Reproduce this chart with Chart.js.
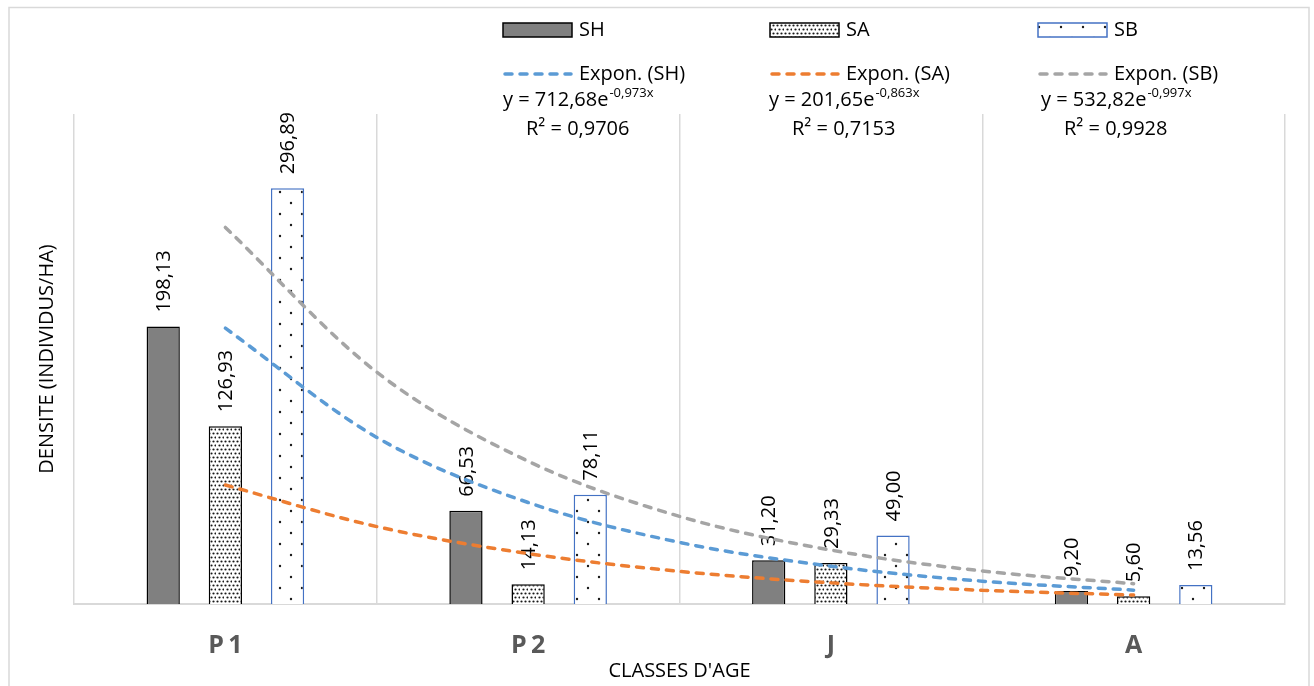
<!DOCTYPE html>
<html>
<head>
<meta charset="utf-8">
<script src="https://cdn.jsdelivr.net/npm/chart.js@4.4.1/dist/chart.umd.min.js"></script>
<style>
  body { margin: 0; background: #fff; }
  #wrap { position: relative; width: 1314px; height: 686px; }
  #wrap canvas { position: absolute; left: 0; top: 0; display: block; }
</style>
</head>
<body>
<div id="wrap">
  <canvas id="densChart" width="1314" height="686"></canvas>
  <canvas id="trendChart" width="1314" height="686"></canvas>
</div>
<script>
// data
const categories = ['P1', 'P2', 'J', 'A'];
const shValues = [198.13, 66.53, 31.20, 9.20];
const saValues = [126.93, 14.13, 29.33, 5.60];
const sbValues = [296.89, 78.11, 49.00, 13.56];

// dashed trend curves, read every half category (x = 1 is P1 ... x = 4 is A)
const trendX = ['0.5', '1', '1.5', '2', '2.5', '3', '3.5', '4', '4.5'];
const trendBlue = [null, 197, 119, 72.5, 44, 27, 16.3, 9.9, null];
const trendOrange = [null, 85, 55.3, 36, 23.3, 15.1, 9.8, 6.4, null];
const trendGray = [null, 269, 165.6, 102, 62.6, 38.5, 23.6, 14.5, null];

const seriesNames = ['SH', 'SA', 'SB'];
const trendNames = ['Expon. (SH)', 'Expon. (SA)', 'Expon. (SB)'];
const eqMain = ['y = 712,68e', 'y = 201,65e', 'y = 532,82e'];
const eqSup = ['-0,973x', '-0,863x', '-0,997x'];
const eqR2 = ['R² = 0,9706', 'R² = 0,7153', 'R² = 0,9928'];

const FONT = "'Open Sans', sans-serif";
const blue = '#5B9BD5', orange = '#ED7D31', gray = '#A5A5A5';
const CLEAR = 'rgba(0,0,0,0)';

function dotPattern(size, dots, r) {
    const c = document.createElement('canvas');
    c.width = size; c.height = size;
    const g = c.getContext('2d');
    g.fillStyle = '#fff';
    g.fillRect(0, 0, size, size);
    g.fillStyle = '#1a1a1a';
    dots.forEach(function (d) {
        g.beginPath();
        g.arc(d[0], d[1], r, 0, Math.PI * 2);
        g.fill();
    });
    return g.createPattern(c, 'repeat');
}
const saFill = dotPattern(8, [[1.5, 1.5], [5.5, 1.5], [3.5, 5.5], [7.5, 5.5]], 1.1);
const sbFill = dotPattern(22, [[5, 5], [16, 16]], 1.2);

const barStyles = [
    {fill: '#808080', stroke: '#000'},
    {fill: saFill, stroke: '#000'},
    {fill: sbFill, stroke: '#4472C4'}
];
const trendColors = [blue, orange, gray];

function fmt(v) { return v.toFixed(2).replace('.', ','); }

function barSet(label, values, st) {
    return {
        label: label, data: values,
        backgroundColor: st.fill, borderColor: st.stroke, borderWidth: 1.5,
        barPercentage: 0.535, categoryPercentage: 0.616
    };
}
function trendSet(label, ys, color) {
    return {
        label: label, data: ys, xAxisID: 'x2',
        borderColor: color, borderWidth: 3.5, borderDash: [7, 8], borderCapStyle: 'round',
        pointRadius: 0, fill: false, cubicInterpolationMode: 'monotone'
    };
}

// shared axes; the overlay gets the same sizes but invisible text
function axes(visible) {
    const txt = visible ? '#000' : CLEAR;
    return {
        x: {
            type: 'category',
            labels: categories,
            offset: true,
            grid: {display: visible, offset: true, color: '#d9d9d9', lineWidth: 1.5, drawTicks: false},
            border: {display: visible, color: '#d9d9d9', width: 2},
            ticks: {
                color: visible ? '#595959' : CLEAR,
                padding: 29,
                font: {family: FONT, size: 25, weight: 'bold', lineHeight: 1},
                callback: function (v, i) {
                    const s = categories[i];
                    return s.length > 1 ? s[0] + '\u2009' + s.slice(1) : s;
                }
            },
            title: {
                display: true, text: "CLASSES D'AGE", color: txt,
                font: {family: FONT, size: 20}, padding: {top: -28, bottom: 3}
            }
        },
        y: {
            min: 0, max: 350,
            grid: {display: false},
            border: {display: false},
            ticks: {display: false},
            title: {
                display: true, text: 'DENSITE (INDIVIDUS/HA)', color: txt,
                font: {family: FONT, size: 20}, padding: {top: 5, bottom: 7}
            }
        }
    };
}
const layout = {padding: {left: 30, right: 29, top: 114, bottom: 0}};

// frame, custom legend, trend equations and bar value labels
const decorPlugin = {
    id: 'decor',
    beforeDraw(chart) {
        const ctx = chart.ctx;
        ctx.save();
        ctx.fillStyle = '#fff';
        ctx.fillRect(0, 0, chart.width, chart.height);
        ctx.strokeStyle = '#d9d9d9';
        ctx.lineWidth = 1.5;
        ctx.strokeRect(9, 7.5, 1300, 700);
        ctx.restore();
    },
    afterDraw(chart) {
        const ctx = chart.ctx;
        const cols = [503, 770, 1038];
        const eqStart = [503, 769, 1041];
        ctx.save();
        ctx.textBaseline = 'middle';
        cols.forEach(function (x, i) {
            // bar swatch
            ctx.fillStyle = barStyles[i].fill;
            ctx.fillRect(x, 23, 69, 14);
            ctx.strokeStyle = barStyles[i].stroke;
            ctx.lineWidth = 1.5;
            ctx.strokeRect(x, 23, 69, 14);
            ctx.fillStyle = '#000';
            ctx.font = '20px ' + FONT;
            ctx.textAlign = 'left';
            ctx.fillText(seriesNames[i], x + 76, 30);

            // trend swatch
            ctx.beginPath();
            ctx.setLineDash([7, 8]);
            ctx.lineCap = 'round';
            ctx.strokeStyle = trendColors[i];
            ctx.lineWidth = 3.5;
            ctx.moveTo(x + 2, 74);
            ctx.lineTo(x + 68, 74);
            ctx.stroke();
            ctx.setLineDash([]);
            ctx.fillText(trendNames[i], x + 76, 74);

            // equation with superscript
            const ex = eqStart[i];
            ctx.textBaseline = 'alphabetic';
            ctx.font = '20px ' + FONT;
            const w1 = ctx.measureText(eqMain[i]).width;
            ctx.fillText(eqMain[i], ex, 106);
            ctx.font = '13px ' + FONT;
            const w2 = ctx.measureText(eqSup[i]).width;
            ctx.fillText(eqSup[i], ex + w1 + 1, 97);
            ctx.font = '20px ' + FONT;
            ctx.textAlign = 'center';
            ctx.fillText(eqR2[i], ex + (w1 + w2) / 2, 135);
            ctx.textAlign = 'left';
            ctx.textBaseline = 'middle';
        });
        ctx.restore();
    },
    afterDatasetDraw(chart, args) {
        const meta = args.meta;
        const ctx = chart.ctx;
        const values = chart.data.datasets[args.index].data;
        ctx.save();
        ctx.fillStyle = '#000';
        ctx.font = '20px ' + FONT;
        ctx.textAlign = 'left';
        ctx.textBaseline = 'middle';
        meta.data.forEach(function (bar, i) {
            ctx.save();
            ctx.translate(bar.x + 1, bar.y - 14);
            ctx.rotate(-Math.PI / 2);
            ctx.fillText(fmt(values[i]), 0, 0);
            ctx.restore();
        });
        ctx.restore();
    }
};

// bars on their own chart so the curves do not take bar slots
new Chart(document.getElementById('densChart'), {
    type: 'bar',
    data: {
        labels: categories,
        datasets: [
            barSet('SH', shValues, barStyles[0]),
            barSet('SA', saValues, barStyles[1]),
            barSet('SB', sbValues, barStyles[2])
        ]
    },
    options: {
        responsive: false,
        animation: false,
        layout: layout,
        plugins: {legend: {display: false}, tooltip: {enabled: false}},
        scales: axes(true)
    },
    plugins: [decorPlugin]
});

// transparent overlay with the exponential trend curves
const trendScales = axes(false);
trendScales.x2 = {type: 'category', labels: trendX, display: false, offset: false, grid: {offset: false}};
new Chart(document.getElementById('trendChart'), {
    type: 'line',
    data: {
        datasets: [
            trendSet('Expon. (SH)', trendBlue, blue),
            trendSet('Expon. (SA)', trendOrange, orange),
            trendSet('Expon. (SB)', trendGray, gray)
        ]
    },
    options: {
        responsive: false,
        animation: false,
        layout: layout,
        plugins: {legend: {display: false}, tooltip: {enabled: false}},
        scales: trendScales
    }
});
</script>
</body>
</html>
